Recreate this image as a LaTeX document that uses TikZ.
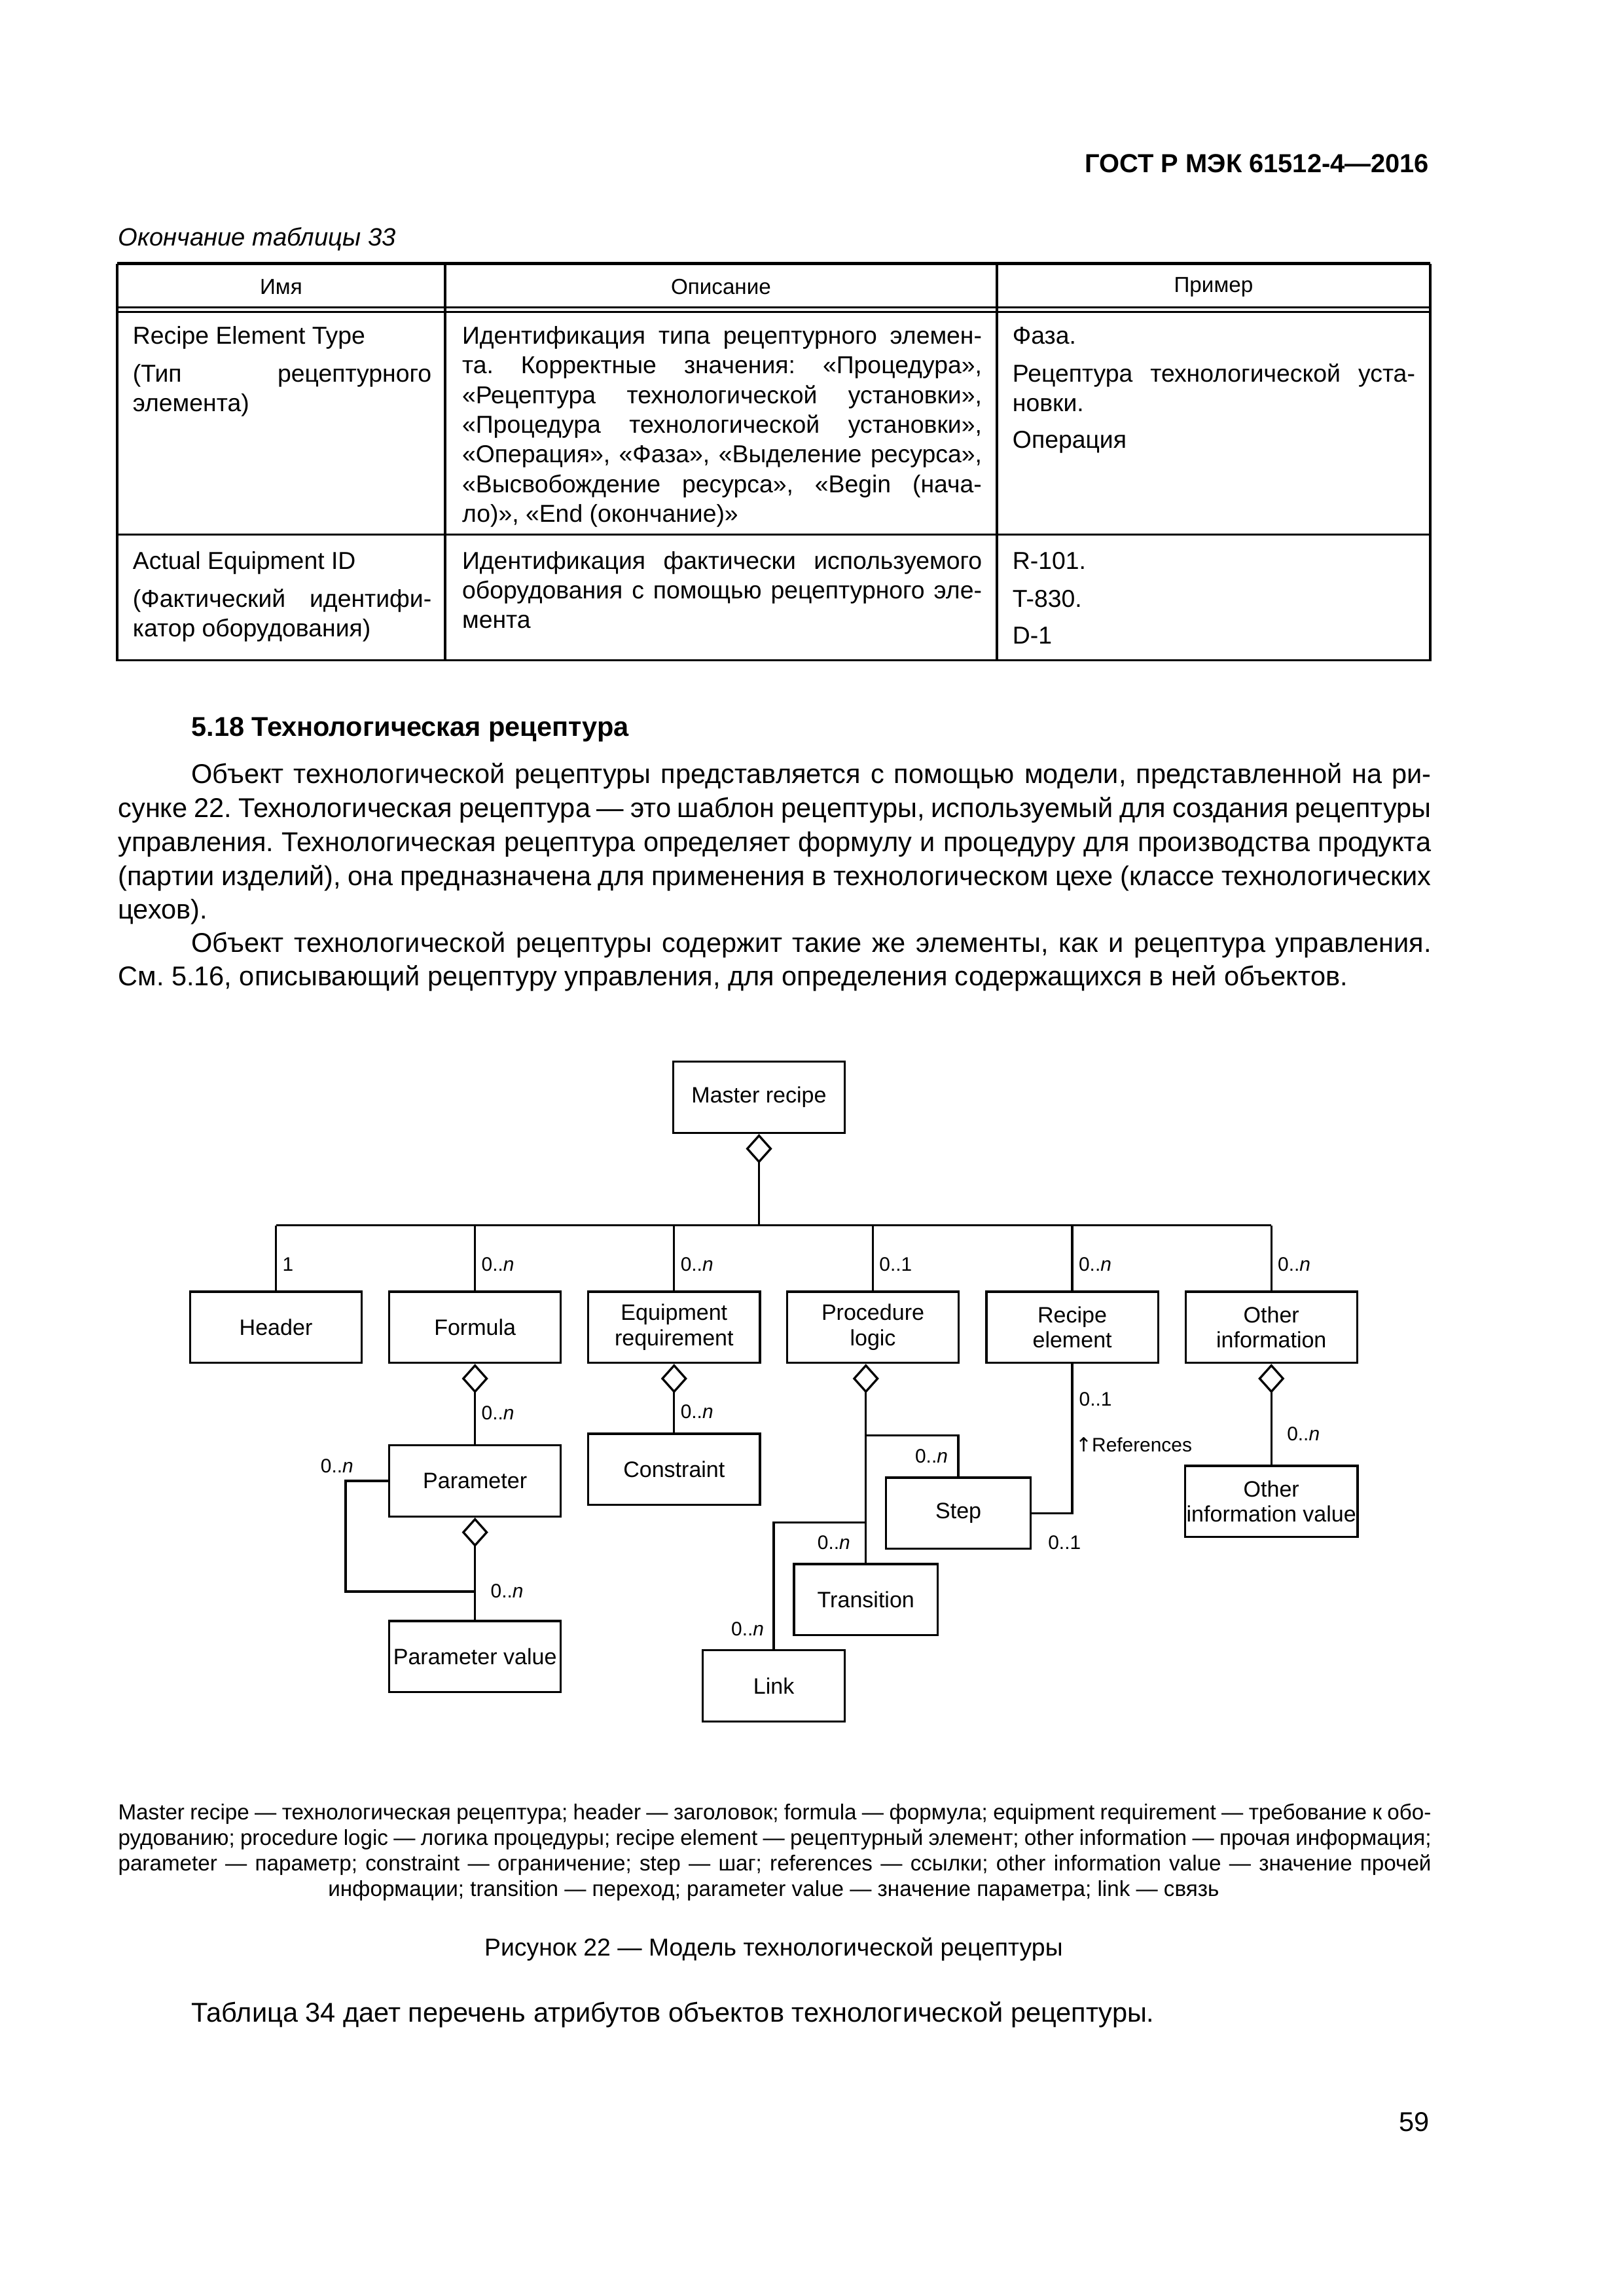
\documentclass[tikz,border=0pt]{standalone}
\usepackage{fontspec}
\setmainfont{Liberation Sans}
\newfontfamily\arrowfont{DejaVu Sans}
\usetikzlibrary{arrows.meta,positioning,calc}
\frenchspacing

\newcommand{\justline}[2]{\makebox[#1][s]{#2}}

\begin{document}
\begin{tikzpicture}[
    x=0.18936mm, y=-0.18936mm, line width=0.8pt,
    body/.style={anchor=mid west, inner sep=0pt, font=\fontsize{10}{12}\selectfont},
    cell/.style={anchor=mid west, inner sep=0pt, font=\fontsize{9}{11}\selectfont},
    hcell/.style={inner sep=0pt, font=\fontsize{8}{9}\selectfont},
    legend/.style={anchor=mid west, inner sep=0pt, font=\fontsize{8}{9}\selectfont},
    box/.style={draw, minimum width=22.2mm, minimum height=9.2mm, align=center, inner sep=0.5pt, font=\fontsize{8.2}{9.2}\selectfont},
    lbl/.style={inner sep=0pt, font=\fontsize{7.2}{8}\selectfont},
    agg/.style={{Diamond[open,length=3.8mm,width=3.4mm]}-},
]
\useasboundingbox (0,0) rectangle (1109,1568.2);

% page head
\node[anchor=mid east, inner sep=0pt, font=\fontsize{9.6}{11}\selectfont\bfseries] (gost) at (977,113) {ГОСТ Р МЭК 61512-4—2016};
\node[anchor=mid west, inner sep=0pt, font=\fontsize{9.2}{11}\selectfont\itshape] (tcap) at (80,163) {Окончание таблицы 33};

% table 33 (end)
\draw[line width=1.1pt] (80,180) -- (977,180);
\draw (80,180) -- (80,451) -- (977,451) -- (977,180);
\draw (304,180) -- (304,451);
\draw (681,180) -- (681,451);
\draw (80,210) -- (977,210);
\draw (80,213) -- (977,213);
\draw (80,365) -- (977,365);
\node[hcell] (hname) at (192,196) {Имя};
\node[hcell] (hdesc) at (492.5,196) {Описание};
\node[hcell] (hexam) at (829,196) {Пример};

\node[cell] (c11a) at (90,230) {Recipe Element Type};
\node[cell] (c11b) at (90,256) {\justline{38.63mm}{(Тип рецептурного}};
\node[cell] (c11c) at (90,276) {элемента)};
\node[cell] (c12a) at (315,230) {\justline{67.22mm}{Идентификация типа рецептурного элемен-}};
\node[cell] (c12b) at (315,250.3) {\justline{67.22mm}{та. Корректные значения: «Процедура»,}};
\node[cell] (c12c) at (315,270.6) {\justline{67.22mm}{«Рецептура технологической установки»,}};
\node[cell] (c12d) at (315,290.9) {\justline{67.22mm}{«Процедура технологической установки»,}};
\node[cell] (c12e) at (315,311.2) {\justline{67.22mm}{«Операция», «Фаза», «Выделение ресурса»,}};
\node[cell] (c12f) at (315,331.5) {\justline{67.22mm}{«Высвобождение ресурса», «Begin (нача-}};
\node[cell] (c12g) at (315,351.8) {ло)», «End (окончание)»};
\node[cell] (c13a) at (691,230) {Фаза.};
\node[cell] (c13b) at (691,256) {\justline{52.07mm}{Рецептура технологической уста-}};
\node[cell] (c13c) at (691,276) {новки.};
\node[cell] (c13d) at (691,301) {Операция};

\node[cell] (c21a) at (90,384) {Actual Equipment ID};
\node[cell] (c21b) at (90,410) {\justline{38.63mm}{(Фактический идентифи-}};
\node[cell] (c21c) at (90,430) {катор оборудования)};
\node[cell] (c22a) at (315,384) {\justline{67.22mm}{Идентификация фактически используемого}};
\node[cell] (c22b) at (315,404) {\justline{67.22mm}{оборудования с помощью рецептурного эле-}};
\node[cell] (c22c) at (315,424) {мента};
\node[cell] (c23a) at (691,384) {R-101.};
\node[cell] (c23b) at (691,410) {T-830.};
\node[cell] (c23c) at (691,435) {D-1};

% section 5.18
\node[anchor=mid west, inner sep=0pt, font=\fontsize{10}{12}\selectfont\bfseries] (sec) at (130,498) {5.18 Технологическая рецептура};
\node[body] (p1a) at (130,530) {\justline{160.39mm}{Объект технологической рецептуры представляется с помощью модели, представленной на ри-}};
\node[body] (p1b) at (80,553.3) {\justline{169.86mm}{сунке 22. Технологическая рецептура — это шаблон рецептуры, используемый для создания рецептуры}};
\node[body] (p1c) at (80,576.6) {\justline{169.86mm}{управления. Технологическая рецептура определяет формулу и процедуру для производства продукта}};
\node[body] (p1d) at (80,599.9) {\justline{169.86mm}{(партии изделий), она предназначена для применения в технологическом цехе (классе технологических}};
\node[body] (p1e) at (80,622.5) {цехов).};
\node[body] (p2a) at (130,645.5) {\justline{160.39mm}{Объект технологической рецептуры содержит такие же элементы, как и рецептура управления.}};
\node[body] (p2b) at (80,668.5) {См. 5.16, описывающий рецептуру управления, для определения содержащихся в ней объектов.};

% figure 22
\node[box] (mr)  at (518.5,749.5) {Master recipe};
\node[box] (hdr) at (188.5,906.5) {Header};
\node[box] (frm) at (324.5,906.5) {Formula};
\node[box] (eqr) at (460.5,906.5) {Equipment\\requirement};
\node[box] (prc) at (596.3,906.5) {Procedure\\logic};
\node[box] (rel) at (732.5,906.5) {Recipe\\element};
\node[box] (oth) at (868.5,906.5) {Other\\information};
\node[box] (par) at (324.5,1011.5) {Parameter};
\node[box] (pvl) at (324.5,1131.5) {Parameter value};
\node[box] (con) at (460.5,1003.5) {Constraint};
\node[box, minimum width=18.7mm] (stp) at (654.7,1033.5) {Step};
\node[box, minimum width=18.6mm] (trn) at (591.5,1092.5) {Transition};
\node[box, minimum width=18.4mm] (lnk) at (528.6,1151.5) {Link};
\node[box] (oiv) at (868.5,1025.5) {Other\\information value};

% master recipe aggregation bus
\coordinate (bus) at (518.5,837);
\draw[agg] (mr.south) -- (bus);
\draw (hdr.north |- bus) -- (oth.north |- bus);
\draw (hdr.north) -- node[lbl,right=2pt,pos=0.4]{1} (hdr.north |- bus);
\draw (frm.north) -- node[lbl,right=2pt,pos=0.4]{0..\textit{n}} (frm.north |- bus);
\draw (eqr.north) -- node[lbl,right=2pt,pos=0.4]{0..\textit{n}} (eqr.north |- bus);
\draw (prc.north) -- node[lbl,right=2pt,pos=0.4]{0..1} (prc.north |- bus);
\draw (rel.north) -- node[lbl,right=2pt,pos=0.4]{0..\textit{n}} (rel.north |- bus);
\draw (oth.north) -- node[lbl,right=2pt,pos=0.4]{0..\textit{n}} (oth.north |- bus);

% formula / parameter
\draw[agg] (frm.south) -- node[lbl,right=2pt,pos=0.61]{0..\textit{n}} (par.north);
\coordinate (ploop) at (324.5,1087);
\draw (par.west) -- ++(-29,0) |- (ploop);
\node[lbl, anchor=east] (plbl) at ($(par.west)+(-23,-10)$) {0..\textit{n}};
\draw[agg] (par.south) -- (pvl.north);
\node[lbl, anchor=west] (pvlbl) at ($(pvl.north)+(10,-20)$) {0..\textit{n}};

% equipment requirement
\draw[agg] (eqr.south) -- node[lbl,right=2pt,pos=0.7]{0..\textit{n}} (con.north);

% procedure logic
\coordinate (pd) at (trn.north |- prc.south);
\coordinate (sb) at (591.5,980.5);
\coordinate (lb) at (591.5,1040);
\draw[agg] (pd) -- (trn.north);
\draw (stp.north) |- (sb);
\draw (lnk.north) |- (lb);
\node[lbl, anchor=east] (slbl) at ($(stp.north)+(-6.5,-14)$) {0..\textit{n}};
\node[lbl, anchor=east] (tlbl) at ($(trn.north)+(-10,-14)$) {0..\textit{n}};
\node[lbl, anchor=east] (llbl) at ($(lnk.north)+(-6,-14)$) {0..\textit{n}};

% recipe element references step
\draw (rel.south) |- (stp.east);
\node[lbl, anchor=west] (rlbl1) at ($(rel.south)+(4,24)$) {0..1};
\node[lbl, anchor=west] (rref) at ($(rel.south)+(1.5,55)$) {{\arrowfont ↑}References};
\node[lbl, anchor=west] (rlbl2) at ($(stp.east)+(10.5,20)$) {0..1};

% other information
\draw[agg] (oth.south) -- (oiv.north);
\node[lbl, anchor=west] (olbl) at ($(oth.south)+(10,48)$) {0..\textit{n}};

% legend and caption
\node[legend] (lg1) at (80,1238) {\justline{169.86mm}{Master recipe — технологическая рецептура; header — заголовок; formula — формула; equipment requirement — требование к обо-}};
\node[legend] (lg2) at (80,1255.5) {\justline{169.86mm}{рудованию; procedure logic — логика процедуры; recipe element — рецептурный элемент; other information — прочая информация;}};
\node[legend] (lg3) at (80,1273) {\justline{169.86mm}{parameter — параметр; constraint — ограничение; step — шаг; references — ссылки; other information value — значение прочей}};
\node[legend, anchor=mid] (lg4) at (528.5,1290.5) {информации; transition — переход; parameter value — значение параметра; link — связь};
\node[inner sep=0pt, anchor=mid, font=\fontsize{9}{11}\selectfont] (fcap) at (528.5,1331) {Рисунок 22 — Модель технологической рецептуры};

\node[body] (p3) at (130,1376) {Таблица 34 дает перечень атрибутов объектов технологической рецептуры.};
\node[anchor=mid east, inner sep=0pt, font=\fontsize{10}{12}\selectfont] (pnum) at (977,1451) {59};
\end{tikzpicture}
\end{document}
